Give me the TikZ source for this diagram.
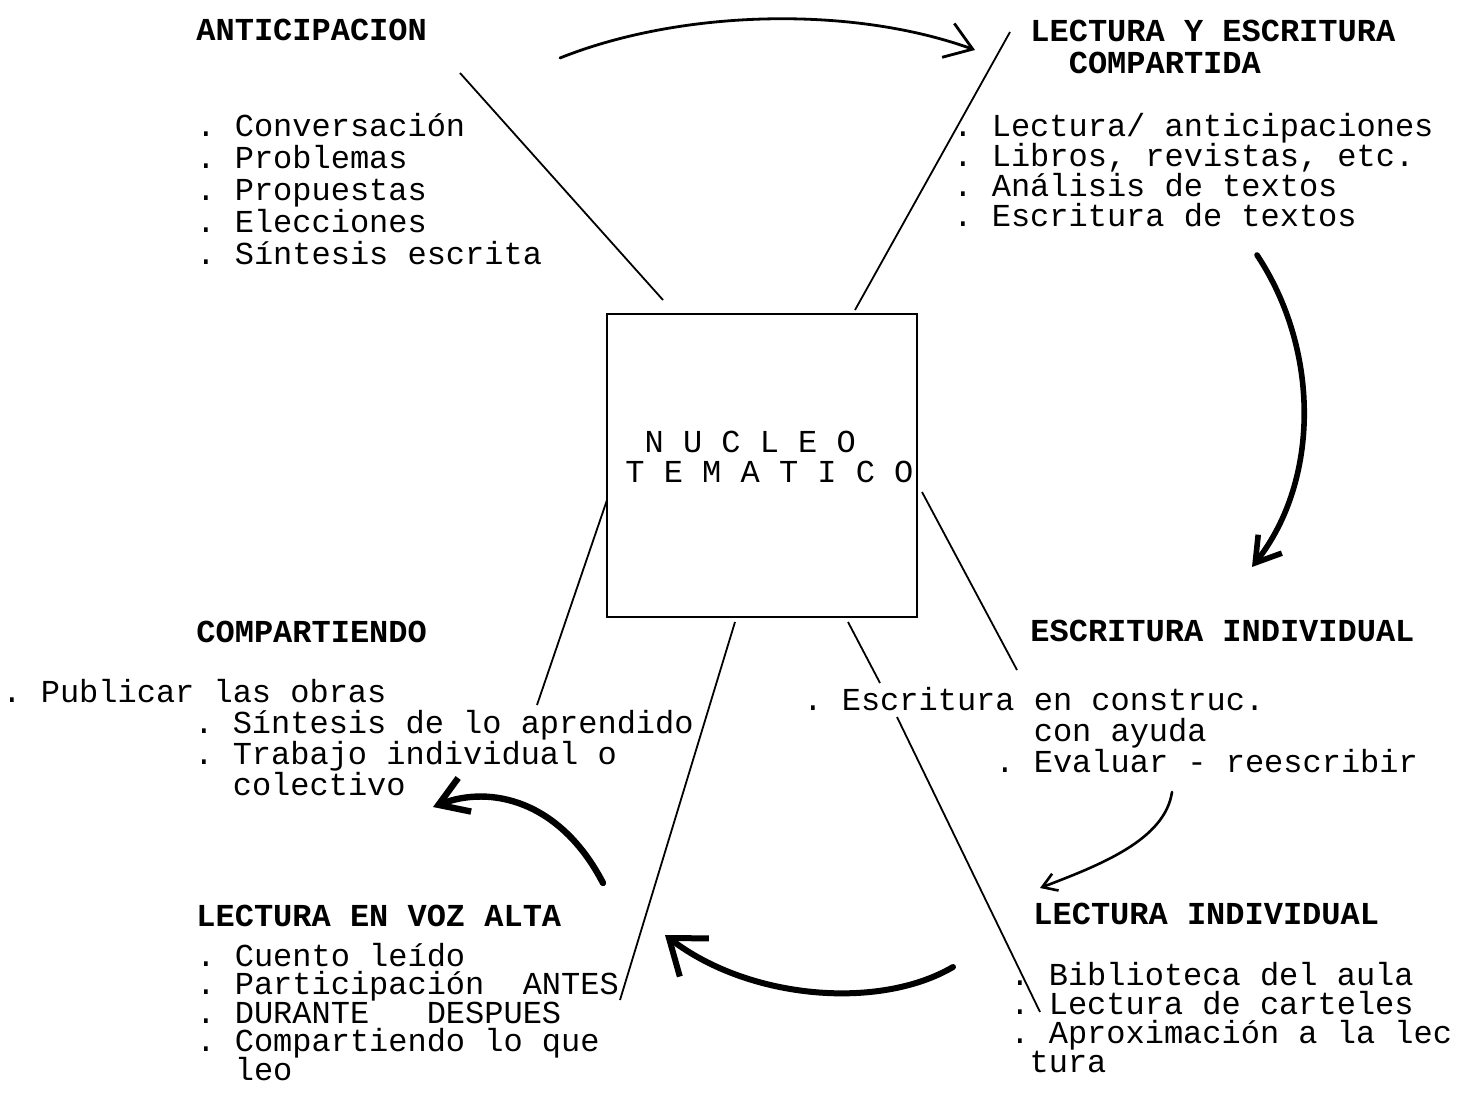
\documentclass[tikz,border=0pt]{standalone}
\usepackage{fontspec}
\setmonofont{Liberation Mono}
\usetikzlibrary{arrows.meta}
\newcommand\ind[1]{\hspace*{\dimexpr 9.6pt*#1\relax}}

\tikzset{
  items/.style={align=left, text width=16cm, anchor=base west, inner sep=0pt,
    font={\ttfamily\fontsize{16}{#1}\selectfont\frenchspacing\lineskiplimit=-\maxdimen},
    execute at begin node={\spaceskip=9.6pt\xspaceskip=9.6pt\relax}},
  head/.style={items=#1, font={\ttfamily\bfseries\fontsize{16}{#1}\selectfont\frenchspacing\lineskiplimit=-\maxdimen}},
  link/.style={line width=0.9pt},
  hand/.style={line width=#1, line cap=round},
}

\begin{document}
\begin{tikzpicture}[x=0.5pt,y=-0.5pt]
  \useasboundingbox (0,0) rectangle (1463,1112);
  % centre
  \node[draw, line width=1.4pt, minimum width=155pt, minimum height=151.5pt, inner sep=0pt] (nucleo) at (762,465.5) {};
  \node[items=15pt] (nucleotxt) at (625,453) {\ind{1}N U C L E O\\T E M A T I C O};

  % blocks
  \node[head=16pt] (anticip) at (196,41) {ANTICIPACION};
  \node[items=16pt] (anticipitems) at (196,137) {. Conversación\\. Problemas\\. Propuestas\\. Elecciones\\. Síntesis escrita};

  \node[head=16pt] (lyehead) at (1030,42) {LECTURA Y ESCRITURA\\\ind{2}COMPARTIDA};
  \node[items=15pt] (lyeitems) at (953,137) {. Lectura/ anticipaciones\\. Libros, revistas, etc.\\. Análisis de textos\\. Escritura de textos};

  \node[head=16pt] (comphead) at (196,643) {COMPARTIENDO};
  \node[items=15.5pt] (compitems) at (2,703) {. Publicar las obras\\\ind{10}. Síntesis de lo aprendido\\\ind{10}. Trabajo individual o\\\ind{12}colectivo};

  \node[head=16pt] (eschead) at (1030,641) {ESCRITURA INDIVIDUAL};
  \node[items=15.5pt] (escitems) at (803,711) {. Escritura en construc.\\\ind{12}con ayuda\\\ind{10}. Evaluar - reescribir};

  \node[head=16pt] (lvahead) at (196,926) {LECTURA EN VOZ ALTA};
  \node[items=14.25pt] (lvaitems) at (196,966) {. Cuento leído\\. Participación~~ANTES\\. DURANTE~~~DESPUES\\. Compartiendo lo que\\\ind{2}leo};

  \node[head=16pt] (lihead) at (1033,924) {LECTURA INDIVIDUAL};
  \node[items=14.5pt] (liitems) at (1010,985) {. Biblioteca del aula\\. Lectura de carteles\\. Aproximación a la lec\\\ind{1}tura};

  % rays from the box
  \coordinate (r1a) at (460,73);   \coordinate (r1b) at (663,300);
  \coordinate (r2a) at (1010,32);  \coordinate (r2b) at (855,310);
  \coordinate (r3a) at (607,500);  \coordinate (r3b) at (537,705);
  \coordinate (r4a) at (735,622);  \coordinate (r4b) at (620,1000);
  \coordinate (r5a) at (922,492);  \coordinate (r5b) at (1017,670);
  \coordinate (r6a) at (848,622);  \coordinate (r6b) at (880,683);
  \coordinate (r7a) at (897,717);  \coordinate (r7b) at (1040,1012);
  \draw[link] (r1a) -- (r1b);
  \draw[link] (r2a) -- (r2b);
  \draw[link] (r3a) -- (r3b);
  \draw[link] (r4a) -- (r4b);
  \draw[link] (r5a) -- (r5b);
  \draw[link] (r6a) -- (r6b);
  \draw[link] (r7a) -- (r7b);

  % hand drawn arrows
  \coordinate (c1a) at (560,58);   \coordinate (c1b) at (975,50);
  \coordinate (c2a) at (1257,255); \coordinate (c2b) at (1252,567);
  \coordinate (c3a) at (1172,792); \coordinate (c3b) at (1040,888);
  \coordinate (c4a) at (953,967);  \coordinate (c4b) at (665,935);
  \coordinate (c5a) at (603,883);  \coordinate (c5b) at (433,807);
  \draw[hand=1.4pt, -{Straight Barb[length=13pt,width=18pt]}] (c1a) .. controls (680,10) and (850,5) .. (c1b);
  \draw[hand=2.8pt, -{Straight Barb[length=12pt,width=15pt]}] (c2a) .. controls (1320,350) and (1320,480) .. (c2b);
  \draw[hand=1.3pt, -{Straight Barb[length=7pt,width=9pt]}] (c3a) .. controls (1165,840) and (1100,865) .. (c3b);
  \draw[hand=3pt, -{Straight Barb[length=16pt,width=24pt]}] (c4a) .. controls (880,1010) and (750,1000) .. (c4b);
  \draw[hand=3.2pt, -{Straight Barb[length=14pt,width=18pt]}] (c5a) .. controls (560,800) and (490,785) .. (c5b);
\end{tikzpicture}
\end{document}
